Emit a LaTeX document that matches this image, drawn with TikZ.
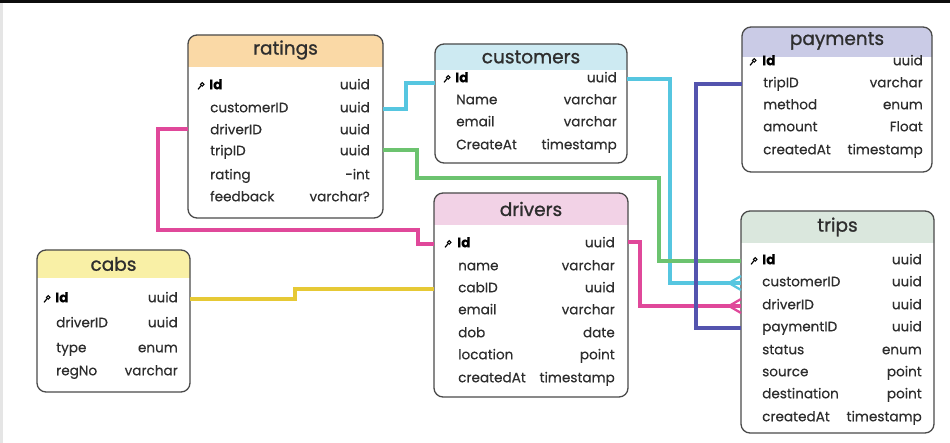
\documentclass[tikz,border=0pt]{standalone}
\usepackage{fontspec}
\setmainfont{Poppins}[FakeBold=0.35]
\newfontfamily\titlefont{Poppins}[FakeBold=1.1]
\usetikzlibrary{calc}
\definecolor{hRat}{HTML}{FAD9A6}
\definecolor{hCus}{HTML}{CDEAF2}
\definecolor{hPay}{HTML}{CACBE6}
\definecolor{hCab}{HTML}{F9F0A6}
\definecolor{hDrv}{HTML}{F2D2E6}
\definecolor{hTrp}{HTML}{DAE7DD}
\definecolor{lCyan}{HTML}{56C6E0}
\definecolor{lGreen}{HTML}{6CC36F}
\definecolor{lPink}{HTML}{E0489A}
\definecolor{lYellow}{HTML}{E6C935}
\definecolor{lPurple}{HTML}{5454AE}
\definecolor{txt}{HTML}{2E2E2E}
\definecolor{frame}{HTML}{4A4A4A}
\tikzset{
  tblframe/.style={draw=frame, line width=1.3pt, rounded corners=9pt, inner sep=0pt, outer sep=0pt},
  tbltitle/.style={font=\titlefont\fontsize{18.5}{20}\selectfont, text=txt, inner sep=0pt},
  fname/.style={font=\fontsize{13.6}{15}\selectfont, text=txt, inner sep=0pt, text height=10pt, text depth=3.5pt, anchor=west},
  fkey/.style={font=\fontsize{13.6}{15}\selectfont\bfseries, text=black, inner sep=0pt, text height=10pt, text depth=3.5pt, anchor=west},
  ftype/.style={font=\fontsize{13.6}{15}\selectfont, text=txt, inner sep=0pt, text height=10pt, text depth=3.5pt, anchor=east},
  conn/.style={line width=3.1pt},
  crow/.style={line width=2.3pt},
}
% #1 name, #2 x1, #3 y1, #4 x2, #5 y2, #6 header bottom, #7 colour, #8 title, #9 title y
\newcommand\erTable[9]{%
  \fill[white, rounded corners=9pt] (#2,#3) rectangle (#4,#5);
  \fill[#7] (#2,#6) [rounded corners=9pt]-- (#2,#3) -- (#4,#3) [sharp corners]-- (#4,#6) -- cycle;
  \node[tblframe, minimum width={(#4)-(#2)}, minimum height={(#5)-(#3)}] (#1) at ({(#2+#4)/2},{(#3+#5)/2}) {};
  \node[tbltitle] (#1-title) at ({(#2+#4)/2},#9) {#8};
}
% #1 node name, #2 x name, #3 x type, #4 y, #5 field, #6 type
\newcommand\erRow[6]{%
  \node[fname] (#1) at (#2,#4) {#5};
  \node[ftype] (#1-t) at (#3,#4) {#6};
}
% key row: #1 node name, #2 icon x, #3 x name, #4 x type, #5 y, #6 type
\newcommand\erKey[6]{%
  \draw[line width=1pt, black] (#2+2.2,#5-1.6) circle (1.8pt);
  \draw[line width=1.2pt, black, line cap=round] (#2+1,#5-0.3) -- (#2-1.8,#5+3.2);
  \node[fkey] (#1) at (#3,#5) {Id};
  \node[ftype] (#1-t) at (#4,#5) {#6};
}
\begin{document}
\begin{tikzpicture}[x=1pt, y=-1pt]
\useasboundingbox (0,0) rectangle (950,443);
\fill[white] (0,0) rectangle (950,443);
\fill[black!95] (0,0) rectangle (950,3.5);
\fill[black!10] (0,3.5) rectangle (2.5,443);

% ratings
\erTable{ratings}{188}{35}{383}{218}{67}{hRat}{ratings}{50}
\erKey{ratings-id}{200}{209}{370}{86}{uuid}
\erRow{ratings-cust}{210}{370}{109}{customerID}{uuid}
\erRow{ratings-driver}{210}{370}{131}{driverID}{uuid}
\erRow{ratings-trip}{210}{370}{152}{tripID}{uuid}
\erRow{ratings-rating}{210}{370}{176}{rating}{-int}
\erRow{ratings-feedback}{210}{370}{198}{feedback}{varchar?}

% customers
\erTable{customers}{435}{44}{627}{163}{70}{hCus}{customers}{57}
\erKey{customers-id}{446}{455}{617}{79}{uuid}
\erRow{customers-name}{456}{617}{101}{Name}{varchar}
\erRow{customers-email}{456}{617}{123}{email}{varchar}
\erRow{customers-created}{456}{617}{146}{CreateAt}{timestamp}

% payments
\erTable{payments}{742}{27}{932}{172}{57}{hPay}{payments}{41}
\erKey{payments-id}{752}{762}{923}{62}{uuid}
\erRow{payments-trip}{763}{923}{84}{tripID}{varchar}
\erRow{payments-method}{763}{923}{106}{method}{enum}
\erRow{payments-amount}{763}{923}{128}{amount}{Float}
\erRow{payments-created}{763}{923}{151}{createdAt}{timestamp}

% cabs
\erTable{cabs}{37}{250}{190}{392}{278}{hCab}{cabs}{264}
\erKey{cabs-id}{46}{55}{178}{299}{uuid}
\erRow{cabs-driver}{56}{178}{324}{driverID}{uuid}
\erRow{cabs-type}{56}{178}{349}{type}{enum}
\erRow{cabs-reg}{56}{178}{372}{regNo}{varchar}

% drivers
\erTable{drivers}{434}{193}{628}{397}{225}{hDrv}{drivers}{209}
\erKey{drivers-id}{447}{457}{615}{244}{uuid}
\erRow{drivers-name}{458}{615}{267}{name}{varchar}
\erRow{drivers-cab}{458}{615}{289}{cabID}{uuid}
\erRow{drivers-email}{458}{615}{311}{email}{varchar}
\erRow{drivers-dob}{458}{615}{334}{dob}{date}
\erRow{drivers-location}{458}{615}{356}{location}{point}
\erRow{drivers-created}{458}{615}{379}{createdAt}{timestamp}

% trips
\erTable{trips}{741}{211}{934}{433}{243}{hTrp}{trips}{227}
\erKey{trips-id}{753}{762}{922}{261}{uuid}
\erRow{trips-cust}{762}{922}{283}{customerID}{uuid}
\erRow{trips-driver}{762}{922}{306}{driverID}{uuid}
\erRow{trips-pay}{762}{922}{328}{paymentID}{uuid}
\erRow{trips-status}{762}{922}{351}{status}{enum}
\erRow{trips-source}{762}{922}{373}{source}{point}
\erRow{trips-dest}{762}{922}{395}{destination}{point}
\erRow{trips-created}{762}{922}{418}{createdAt}{timestamp}

% connectors
\draw[conn, lCyan] (ratings.east |- ratings-cust) -- ++(23,0) |- ([yshift=-4pt]customers.west |- customers-id);
\draw[conn, lCyan] (customers.east |- customers-id) -- ++(43,0) |- (trips.west |- trips-cust);
\draw[conn, lGreen] ([yshift=2pt]ratings.east |- ratings-trip) -- ++(34,0) -- ++(0,28) -| ([xshift=-82pt]trips.west |- trips-id) -- (trips.west |- trips-id);
\draw[conn, lPink] ([yshift=2pt]ratings.west |- ratings-driver) -- ++(-30,0) -- ++(0,101) -| ([xshift=-16pt]drivers.west |- drivers-id) -- (drivers.west |- drivers-id);
\draw[conn, lPink] ([yshift=2pt]drivers.east |- drivers-id) -- ++(12,0) |- (trips.west |- trips-driver);
\draw[conn, lYellow] (cabs.east |- cabs-id) -- ++(105,0) |- (drivers.west |- drivers-cab);
\draw[conn, lPurple] (payments.west |- payments-trip) -- ++(-46,0) |- (trips.west |- trips-pay);

% crow's feet
\draw[crow, lCyan] ([xshift=-12pt]trips.west |- trips-cust) -- ++(12,-7);
\draw[crow, lCyan] ([xshift=-12pt]trips.west |- trips-cust) -- ++(12,7);
\draw[crow, lPink] ([xshift=-12pt]trips.west |- trips-driver) -- ++(12,-7);
\draw[crow, lPink] ([xshift=-12pt]trips.west |- trips-driver) -- ++(12,7);
\end{tikzpicture}
\end{document}
